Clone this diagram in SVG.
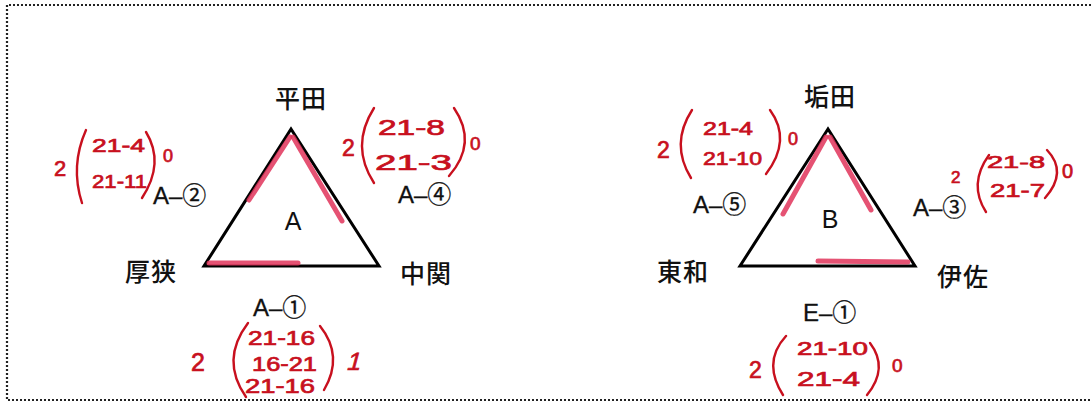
<svg xmlns="http://www.w3.org/2000/svg" width="1091" height="405" viewBox="0 0 1091 405">
<style>
.jp{font-family:"Noto Sans CJK JP","Liberation Sans",sans-serif;font-size:25px;font-weight:500;fill:#111;text-anchor:middle;letter-spacing:1px}
.lb{font-family:"Liberation Sans","Noto Sans CJK JP",sans-serif;font-size:24px;fill:#111;stroke:#111;stroke-width:0.3}
.big{font-family:"Liberation Sans",sans-serif;font-size:25px;fill:#111;text-anchor:middle}
.s{font-family:"Liberation Sans",sans-serif;fill:#c8101e;stroke:#c8101e;stroke-width:0.7}
.p{fill:none;stroke:#c8101e;stroke-width:2.4;stroke-linecap:round}
.edge{fill:none;stroke:#000;stroke-width:3;stroke-linejoin:miter}
.hl{fill:none;stroke:#e0345a;stroke-width:5;stroke-linecap:round;opacity:0.85}
</style>
<rect width="1091" height="405" fill="#fff"/>
<path d="M1091,5 H7 V400 H1091" fill="none" stroke="#222" stroke-width="2.2" stroke-dasharray="2 2"/>

<g id="connectors">
  <polygon class="edge" points="291,129 204,266 379,266"/>
  <polygon class="edge" points="828,129 740,266 915,266"/>
  <path class="hl" d="M290,137 L249,200"/>
  <path class="hl" d="M293,137 L342,221"/>
  <path class="hl" d="M209,263 L298,263"/>
  <path class="hl" d="M826,137 L783,214"/>
  <path class="hl" d="M830,137 L871,210"/>
  <path class="hl" d="M818,261 L908,262"/>
</g>

<g id="group-a">
  <text class="big" x="293" y="230">A</text>
</g>
<g id="group-b">
  <text class="big" x="830" y="228">B</text>
</g>

<g id="node-hirata"><text class="jp" x="301" y="108">平田</text></g>
<g id="node-asa"><text class="jp" x="151" y="281">厚狭</text></g>
<g id="node-nakaseki"><text class="jp" x="426" y="283">中関</text></g>
<g id="node-akada"><text class="jp" x="830" y="106">垢田</text></g>
<g id="node-towa"><text class="jp" x="683" y="281">東和</text></g>
<g id="node-isa"><text class="jp" x="963" y="286">伊佐</text></g>

<g id="match-a2">
  <text class="lb" x="153" y="204">A–②</text>
  <text class="s" x="54" y="176" font-size="22">2</text>
  <path class="p" d="M86,130 Q70,166 82,203"/>
  <text class="s" x="92" y="152" font-size="19" textLength="53" lengthAdjust="spacingAndGlyphs">21-4</text>
  <text class="s" x="92" y="188" font-size="19" textLength="55" lengthAdjust="spacingAndGlyphs">21-11</text>
  <path class="p" d="M146,132 Q165,163 142,198"/>
  <text class="s" x="163" y="162" font-size="18">0</text>
</g>

<g id="match-a4">
  <text class="lb" x="398" y="203">A–④</text>
  <text class="s" x="342" y="156" font-size="23">2</text>
  <path class="p" d="M374,108 Q350,146 374,183"/>
  <text class="s" x="378" y="135" font-size="22" textLength="67" lengthAdjust="spacingAndGlyphs">21-8</text>
  <text class="s" x="375" y="170" font-size="22" textLength="77" lengthAdjust="spacingAndGlyphs">21-3</text>
  <path class="p" d="M454,108 Q478,143 449,176"/>
  <text class="s" x="470" y="150" font-size="19">0</text>
</g>

<g id="match-a1">
  <text class="lb" x="253" y="316">A–①</text>
  <text class="s" x="191" y="371" font-size="25">2</text>
  <path class="p" d="M248,323 Q220,360 246,397"/>
  <text class="s" x="248" y="345" font-size="20" textLength="67" lengthAdjust="spacingAndGlyphs">21-16</text>
  <text class="s" x="252" y="371" font-size="20" textLength="65" lengthAdjust="spacingAndGlyphs">16-21</text>
  <text class="s" x="245" y="393" font-size="20" textLength="70" lengthAdjust="spacingAndGlyphs">21-16</text>
  <path class="p" d="M320,326 Q344,356 324,390"/>
  <text class="s" x="346" y="370" font-size="25" transform="skewX(-15)" dx="99">1</text>
</g>

<g id="match-a5">
  <text class="lb" x="693" y="213">A–⑤</text>
  <text class="s" x="657" y="158" font-size="23">2</text>
  <path class="p" d="M692,110 Q670,144 691,178"/>
  <text class="s" x="703" y="135" font-size="18" textLength="50" lengthAdjust="spacingAndGlyphs">21-4</text>
  <text class="s" x="703" y="165" font-size="18" textLength="59" lengthAdjust="spacingAndGlyphs">21-10</text>
  <path class="p" d="M770,110 Q792,140 766,174"/>
  <text class="s" x="788" y="145" font-size="18">0</text>
</g>

<g id="match-a3">
  <text class="lb" x="913" y="216">A–③</text>
  <text class="s" x="951" y="183" font-size="17">2</text>
  <path class="p" d="M989,155 Q968,184 986,212"/>
  <text class="s" x="987" y="168" font-size="17" textLength="58" lengthAdjust="spacingAndGlyphs">21-8</text>
  <text class="s" x="990" y="197" font-size="19" textLength="55" lengthAdjust="spacingAndGlyphs">21-7</text>
  <path class="p" d="M1047,150 Q1068,172 1045,198"/>
  <text class="s" x="1062" y="178" font-size="20">0</text>
</g>

<g id="match-e1">
  <text class="lb" x="803" y="321">E–①</text>
  <text class="s" x="749" y="378" font-size="23">2</text>
  <path class="p" d="M786,336 Q762,362 783,395"/>
  <text class="s" x="797" y="355" font-size="18" textLength="71" lengthAdjust="spacingAndGlyphs">21-10</text>
  <text class="s" x="797" y="386" font-size="21" textLength="63" lengthAdjust="spacingAndGlyphs">21-4</text>
  <path class="p" d="M870,343 Q889,368 867,395"/>
  <text class="s" x="892" y="372" font-size="19">0</text>
</g>
</svg>
